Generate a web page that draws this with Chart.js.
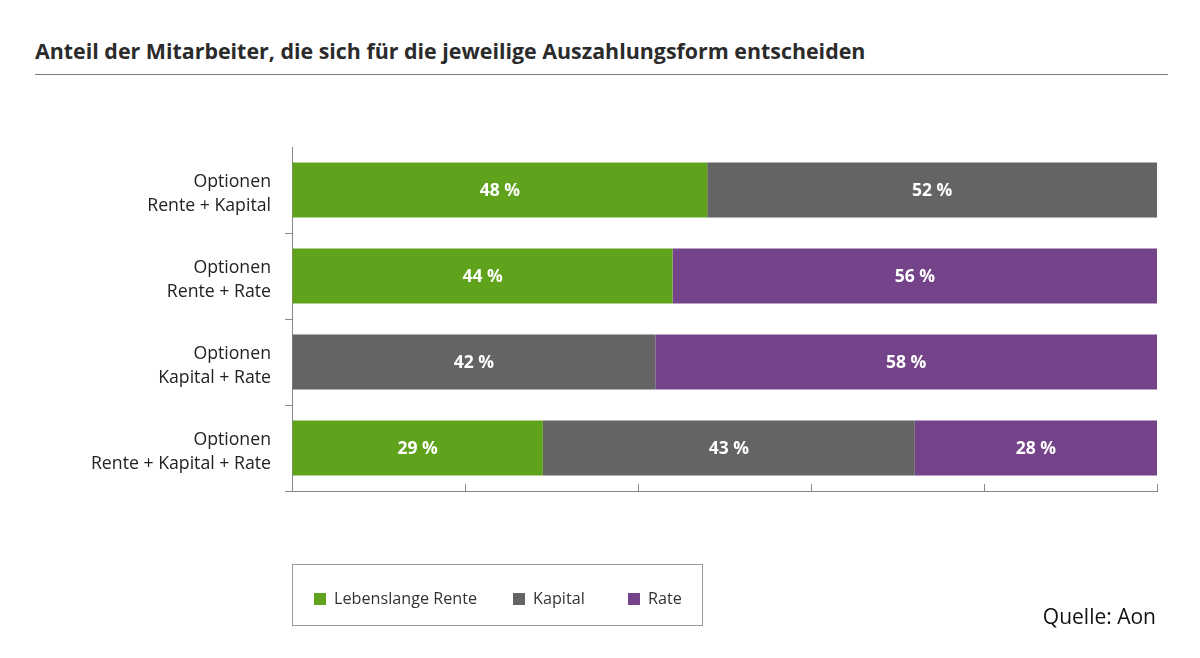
<!DOCTYPE html>
<html>
<head>
<meta charset="utf-8">
<script src="https://cdn.jsdelivr.net/npm/chart.js@4/dist/chart.umd.min.js"></script>
<style>
  body { margin: 0; background: #fff; font-family: "Open Sans", sans-serif; }
  #wrap { position: relative; width: 1200px; height: 658px; overflow: hidden; }
  #title { position: absolute; left: 35px; top: 36px; font-size: 21.4px; font-weight: bold; color: #2b2b2b; white-space: nowrap; }
  #rule { position: absolute; left: 35px; top: 74px; width: 1133px; height: 0; border-top: 1.5px solid #7a7a7a; }
  #chart { position: absolute; left: 0; top: 0; }
  #legend { position: absolute; left: 292px; top: 564px; width: 411px; height: 62px; border: 1px solid #999; box-sizing: border-box; }
  .item { position: absolute; top: 23px; font-size: 16.2px; color: #333; line-height: 20px; white-space: nowrap; }
  .item i { display: inline-block; width: 12px; height: 12px; margin-right: 8px; vertical-align: -1px; }
  #source { position: absolute; right: 44px; top: 602px; font-size: 21px; color: #111; }
</style>
</head>
<body>
<div id="wrap">
  <div id="title">Anteil der Mitarbeiter, die sich für die jeweilige Auszahlungsform entscheiden</div>
  <div id="rule"></div>
  <canvas id="chart" width="1200" height="658"></canvas>
  <div id="legend"></div>
  <div id="source">Quelle: Aon</div>
</div>
<script>
const categories = [
  ['Optionen', 'Rente + Kapital'],
  ['Optionen', 'Rente + Rate'],
  ['Optionen', 'Kapital + Rate'],
  ['Optionen', 'Rente + Kapital + Rate']
];
const seriesNames = ['Lebenslange Rente', 'Kapital', 'Rate'];
const renteValues = [48, 44, null, 29];
const kapitalValues = [52, null, 42, 43];
const rateValues = [null, 56, 58, 28];
const xTicks = [0, 20, 40, 60, 80, 100];

const colors = ['#5fa31d', '#646464', '#744389'];

// legend as html, left offsets
const legendX = [21, 220, 335];
const legend = document.getElementById('legend');
seriesNames.forEach((name, i) => {
  const d = document.createElement('div');
  d.className = 'item';
  d.style.left = legendX[i] + 'px';
  d.innerHTML = '<i style="background:' + colors[i] + '"></i>' + name;
  legend.appendChild(d);
});

// white percentage labels inside the bars
const barLabels = {
  id: 'barLabels',
  afterDatasetsDraw(chart) {
    const c = chart.ctx;
    c.save();
    c.font = 'bold 17.5px "Open Sans", sans-serif';
    c.fillStyle = '#ffffff';
    c.textAlign = 'center';
    c.textBaseline = 'middle';
    chart.data.datasets.forEach((ds, di) => {
      chart.getDatasetMeta(di).data.forEach((bar, i) => {
        const v = ds.data[i];
        if (v == null) return;
        const p = bar.getProps(['x', 'y', 'base'], true);
        c.fillText(v + ' %', (p.x + p.base) / 2, p.y + 1);
      });
    });
    c.restore();
  }
};

const ctx = document.getElementById('chart');
const chart = new Chart(ctx, {
  type: 'bar',
  data: {
    labels: categories,
    datasets: [
      { label: seriesNames[0], data: renteValues, backgroundColor: colors[0] },
      { label: seriesNames[1], data: kapitalValues, backgroundColor: colors[1] },
      { label: seriesNames[2], data: rateValues, backgroundColor: colors[2] }
    ]
  },
  options: {
    indexAxis: 'y',
    responsive: false,
    animation: false,
    layout: { padding: { left: 0, top: 147, right: 43, bottom: 167 } },
    datasets: { bar: { categoryPercentage: 1, barPercentage: 0.64, borderWidth: 0 } },
    scales: {
      x: {
        stacked: true,
        min: 0,
        max: 100,
        afterBuildTicks: s => { s.ticks = xTicks.map(v => ({ value: v })); },
        ticks: { display: false },
        grid: { drawOnChartArea: false, tickLength: -7, color: '#888' },
        border: { color: '#888', width: 1 },
        afterFit: s => { s.height = 0; }
      },
      y: {
        stacked: true,
        ticks: {
          color: '#222',
          font: { family: '"Open Sans", sans-serif', size: 17.7, lineHeight: 1.35 },
          padding: 14,
          crossAlign: 'near',
          labelOffset: 4
        },
        grid: {
          offset: true,
          drawOnChartArea: false,
          tickLength: 7,
          color: c => (c.index === 0 || c.index === categories.length) ? 'rgba(0,0,0,0)' : '#888'
        },
        border: { color: '#888', width: 1 },
        afterFit: s => { s.width = 292; }
      }
    },
    plugins: {
      legend: { display: false },
      tooltip: { enabled: false }
    }
  },
  plugins: [barLabels]
});
</script>
</body>
</html>
